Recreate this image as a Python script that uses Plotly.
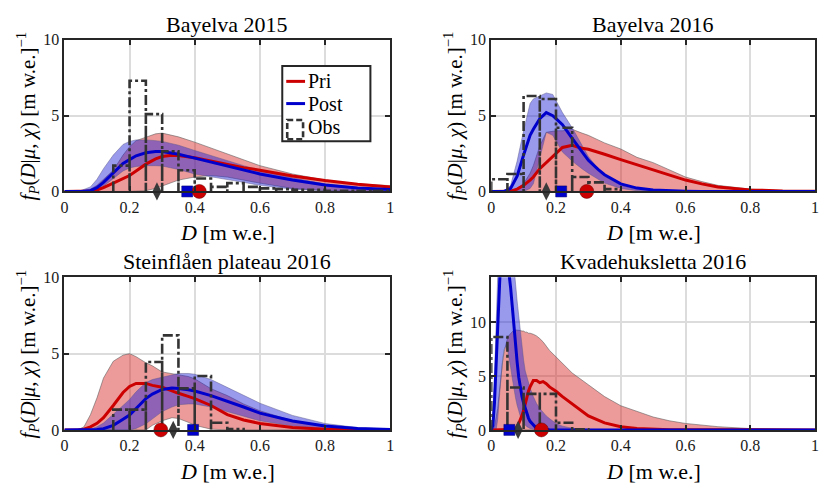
import plotly.graph_objects as go

FONT = "Liberation Serif"

# ---------------- data ----------------
titles = ["Bayelva 2015", "Bayelva 2016", "Steinflåen plateau 2016", "Kvadehuksletta 2016"]
legend_names = ["Pri", "Post", "Obs"]

# Panel 1: Bayelva 2015
p1_D = [0, 0.05, 0.08, 0.1, 0.12, 0.15, 0.18, 0.2, 0.22, 0.25, 0.28, 0.3, 0.33, 0.35,
        0.4, 0.45, 0.5, 0.55, 0.6, 0.7, 0.8, 0.9, 1.0]
p1_pri_lo = [0, 0, 0, 0, 0, 0, 0, 0, 0, 0.05, 0.2, 0.35, 0.6, 0.75,
             0.95, 1.05, 0.95, 0.75, 0.55, 0.2, 0.05, 0, 0]
p1_pri_med = [0, 0, 0.03, 0.1, 0.25, 0.55, 0.85, 1.05, 1.35, 1.8, 2.15, 2.3, 2.38, 2.37,
              2.22, 2.0, 1.78, 1.57, 1.4, 1.02, 0.72, 0.48, 0.3]
p1_pri_hi = [0, 0, 0.15, 0.4, 0.8, 1.4, 2.4, 2.95, 3.35, 3.6, 3.8, 3.85, 3.72, 3.6,
             3.25, 2.85, 2.45, 2.05, 1.7, 1.15, 0.75, 0.5, 0.38]
p1_post_lo = [0, 0, 0, 0.1, 0.35, 0.85, 1.35, 1.55, 1.65, 1.7, 1.7, 1.68, 1.55, 1.45,
              1.15, 0.95, 0.8, 0.6, 0.4, 0.15, 0.05, 0.01, 0]
p1_post_med = [0, 0, 0.05, 0.25, 0.6, 1.25, 1.85, 2.1, 2.35, 2.55, 2.63, 2.63, 2.52, 2.45,
               2.2, 1.95, 1.68, 1.42, 1.15, 0.75, 0.43, 0.22, 0.12]
p1_post_hi = [0, 0.05, 0.3, 0.8, 1.5, 2.4, 3.1, 3.3, 3.4, 3.4, 3.35, 3.3, 3.15, 3.05,
              2.7, 2.35, 2.0, 1.7, 1.4, 0.9, 0.5, 0.25, 0.15]
p1_obs_edges = [0.15, 0.2, 0.25, 0.3, 0.35, 0.4, 0.45, 0.5, 0.55, 0.6, 0.65, 0.7, 0.75,
                0.8, 0.85, 0.9, 0.95, 1.0]
p1_obs = [1.7, 7.3, 5.1, 2.65, 1.4, 0.85, 0.3, 0.55, 0.3, 0.2, 0.15, 0.1, 0.1, 0.05, 0.05, 0.05, 0.05]
p1_means = {"obs": 0.284, "post": 0.377, "pri": 0.414}

# Panel 2: Bayelva 2016
p2_D = [0, 0.04, 0.06, 0.08, 0.1, 0.12, 0.13, 0.15, 0.17, 0.19, 0.2, 0.22, 0.25, 0.28,
        0.3, 0.33, 0.35, 0.4, 0.45, 0.5, 0.55, 0.6, 0.65, 0.7, 0.8, 0.9, 1.0]
p2_pri_lo = [0] * 27
p2_pri_med = [0, 0, 0.02, 0.15, 0.4, 0.75, 0.95, 1.5, 1.9, 2.3, 2.5, 2.9, 3.05, 2.85,
              2.78, 2.6, 2.45, 2.1, 1.75, 1.4, 1.05, 0.75, 0.5, 0.3, 0.1, 0.03, 0.01]
p2_pri_hi = [0, 0, 0.05, 0.2, 0.5, 1.2, 1.7, 3.0, 3.9, 4.0, 4.0, 4.0, 4.1, 3.85,
             3.7, 3.4, 3.2, 2.8, 2.25, 1.9, 1.4, 0.95, 0.65, 0.4, 0.15, 0.05, 0.02]
p2_post_lo = [0, 0, 0, 0, 0, 0.2, 0.5, 2.2, 3.9, 3.7, 3.4, 2.6, 2.0, 1.5,
              1.2, 0.8, 0.55, 0.2, 0.05, 0, 0, 0, 0, 0, 0, 0, 0]
p2_post_med = [0, 0, 0.2, 1.0, 2.4, 3.7, 4.1, 4.8, 5.2, 5.0, 4.8, 4.4, 3.5, 2.6,
               2.05, 1.45, 1.1, 0.5, 0.22, 0.1, 0.05, 0.02, 0, 0, 0, 0, 0]
p2_post_hi = [0, 0, 0.4, 2.0, 4.0, 5.8, 6.1, 6.3, 6.5, 6.4, 6.0, 5.2, 4.2, 3.0,
              2.3, 1.5, 1.0, 0.4, 0.15, 0.05, 0.02, 0, 0, 0, 0, 0, 0]
p2_obs_edges = [0, 0.05, 0.1, 0.15, 0.2, 0.25, 0.3, 0.35, 0.4]
p2_obs = [0.8, 1.15, 6.3, 6.1, 4.2, 0.95, 0.6, 0.15]
p2_means = {"obs": 0.17, "post": 0.216, "pri": 0.295}

# Panel 3: Steinflåen plateau 2016
p3_D = [0, 0.04, 0.06, 0.08, 0.1, 0.12, 0.15, 0.18, 0.2, 0.22, 0.25, 0.27, 0.3, 0.33,
        0.35, 0.38, 0.4, 0.45, 0.5, 0.55, 0.6, 0.7, 0.8, 0.9, 1.0]
p3_pri_lo = [0, 0, 0, 0, 0, 0, 0, 0, 0, 0, 0, 0.3, 0.6, 0.8,
             0.75, 0.5, 0.3, 0.05, 0, 0, 0, 0, 0, 0, 0]
p3_pri_med = [0, 0, 0.05, 0.2, 0.43, 0.8, 1.6, 2.45, 2.85, 3.05, 3.05, 2.92, 2.8, 2.55,
              2.4, 2.2, 2.05, 1.6, 1.0, 0.65, 0.42, 0.15, 0.05, 0.01, 0]
p3_pri_hi = [0, 0, 0.2, 1.0, 2.1, 3.4, 4.5, 4.9, 5.0, 4.8, 4.4, 4.2, 3.8, 3.7,
             3.6, 3.5, 3.35, 2.7, 2.25, 1.7, 1.25, 0.6, 0.25, 0.08, 0.02]
p3_post_lo = [0, 0, 0, 0, 0, 0, 0, 0, 0, 0.1, 0.4, 0.7, 1.2, 1.5,
              1.65, 1.7, 1.7, 1.5, 1.2, 0.9, 0.6, 0.25, 0.08, 0.02, 0]
p3_post_med = [0, 0, 0, 0, 0.02, 0.08, 0.3, 0.7, 0.97, 1.4, 2.05, 2.35, 2.65, 2.74,
               2.72, 2.63, 2.55, 2.25, 1.9, 1.5, 1.1, 0.58, 0.26, 0.1, 0.03]
p3_post_hi = [0, 0, 0, 0.05, 0.2, 0.45, 1.0, 1.6, 2.0, 2.5, 3.1, 3.3, 3.45, 3.6,
              3.7, 3.7, 3.65, 3.3, 2.8, 2.3, 1.75, 0.95, 0.42, 0.15, 0.05]
p3_obs_edges = [0.15, 0.2, 0.25, 0.3, 0.35, 0.4, 0.45, 0.5, 0.55]
p3_obs = [1.33, 1.33, 4.45, 6.2, 2.72, 3.53, 0.47, 0.05]
p3_means = {"pri": 0.296, "obs": 0.334, "post": 0.395}

# Panel 4: Kvadehuksletta 2016
p4_D = [0, 0.005, 0.01, 0.015, 0.02, 0.025, 0.03, 0.035, 0.04, 0.045, 0.05, 0.055, 0.06,
        0.065, 0.07, 0.075, 0.08, 0.085, 0.09, 0.095, 0.1, 0.105, 0.11, 0.115, 0.12,
        0.13, 0.14, 0.15, 0.16, 0.17, 0.18, 0.2, 0.22, 0.25, 0.3, 0.35, 0.4, 0.45,
        0.5, 0.55, 0.6, 0.7, 0.8, 0.9, 1.0]
p4_pri_lo = [0] * 45
p4_pri_med = [0, 0, 0, 0, 0, 0, 0, 0, 0, 0, 0, 0, 0,
              0, 0.05, 0.12, 0.3, 0.6, 0.9, 1.35, 1.8, 2.5, 3.1, 3.6, 4.0,
              4.6, 4.6, 4.4, 4.5, 4.3, 4.0, 3.6, 3.1, 2.4, 1.3, 0.65, 0.3, 0.12,
              0.05, 0.02, 0.01, 0, 0, 0, 0]
p4_pri_hi = [0, 0, 0.3, 1.0, 2.0, 3.5, 5.0, 6.3, 7.3, 8.0, 8.5, 8.8, 9.0,
             9.2, 9.3, 9.3, 9.3, 9.3, 9.25, 9.2, 9.2, 9.1, 9.1, 9.0, 9.0,
             8.9, 8.75, 8.5, 8.2, 7.8, 7.4, 6.8, 6.2, 5.3, 4.2, 3.1, 2.25, 1.7,
             1.2, 0.85, 0.6, 0.3, 0.12, 0.05, 0.02]
p4_post_lo = [0, 0, 0, 0, 1.0, 3.0, 5.0, 6.5, 7.5, 7.8, 7.5, 6.8, 5.8,
              4.8, 3.8, 3.0, 2.3, 1.7, 1.25, 0.9, 0.65, 0.45, 0.3, 0.2, 0.13,
              0.05, 0.02, 0, 0, 0, 0, 0, 0, 0, 0, 0, 0, 0,
              0, 0, 0, 0, 0, 0, 0]
p4_post_med = [0, 0.4, 2.5, 6.0, 10.5, 14.0, 16.5, 17.5, 17.8, 17.2, 16.0, 14.8, 13.2,
               11.5, 9.6, 7.9, 6.3, 4.9, 3.9, 3.1, 2.5, 1.95, 1.5, 1.1, 0.8,
               0.45, 0.15, 0.08, 0.04, 0.02, 0.01, 0, 0, 0, 0, 0, 0, 0,
               0, 0, 0, 0, 0, 0, 0]
p4_post_hi = [0, 1.5, 5.0, 10.0, 15.0, 19.0, 21.0, 22.0, 22.0, 21.5, 21.0, 20.0, 18.5,
              17.0, 15.3, 13.3, 12.0, 10.6, 9.0, 7.6, 6.5, 5.5, 4.9, 4.35, 3.9,
              3.1, 2.45, 2.0, 1.6, 1.3, 1.05, 0.6, 0.35, 0.15, 0.05, 0.02, 0, 0,
              0, 0, 0, 0, 0, 0, 0]
p4_obs_edges = [0, 0.05, 0.1, 0.15, 0.2, 0.25, 0.3]
p4_obs = [8.65, 3.95, 3.35, 3.35, 0.66, 0.05]
p4_means = {"post": 0.056, "obs": 0.083, "pri": 0.155}

y_max = [10, 10, 10, 14.2]
x_ticks = [0, 0.2, 0.4, 0.6, 0.8, 1.0]
x_tick_text = ["0", "0.2", "0.4", "0.6", "0.8", "1"]
y_ticks = [0, 5, 10]
y_tick_text = ["0", "5", "10"]

panels = [
    (p1_D, p1_pri_lo, p1_pri_med, p1_pri_hi, p1_post_lo, p1_post_med, p1_post_hi, p1_obs_edges, p1_obs, p1_means),
    (p2_D, p2_pri_lo, p2_pri_med, p2_pri_hi, p2_post_lo, p2_post_med, p2_post_hi, p2_obs_edges, p2_obs, p2_means),
    (p3_D, p3_pri_lo, p3_pri_med, p3_pri_hi, p3_post_lo, p3_post_med, p3_post_hi, p3_obs_edges, p3_obs, p3_means),
    (p4_D, p4_pri_lo, p4_pri_med, p4_pri_hi, p4_post_lo, p4_post_med, p4_post_hi, p4_obs_edges, p4_obs, p4_means),
]

# ---------------- styling ----------------
W, H = 824, 492
RED = "#cc0000"
BLUE = "#0000cc"
DARK = "#333333"
AX = "#262626"
PINK_FILL = "rgba(215,30,30,0.45)"
BLUE_FILL = "rgba(30,30,215,0.45)"
EDGE = "rgba(90,90,90,0.7)"
HIST_DASH = "10px,3px,3px,3px"

# plot-area boxes in pixels (left, right, top, bottom)
boxes = [(61, 390, 33, 190), (492, 819, 33, 190), (61, 390, 279, 437), (492, 819, 279, 437)]


def hist_path(edges, heights):
    xs, ys = [], []
    for i, h in enumerate(heights):
        x0, x1 = edges[i], edges[i + 1]
        xs += [x0, x0, x1, x1]
        ys += [0, h, h, 0]
    return xs, ys


fig = go.Figure()

for k, (D, prl, prm, prh, pol, pom, poh, oe, ob, means) in enumerate(panels):
    n = k + 1
    xa = "x" if n == 1 else f"x{n}"
    ya = "y" if n == 1 else f"y{n}"
    fig.add_trace(go.Scatter(x=list(D) + list(D)[::-1], y=list(prh) + list(prl)[::-1],
                             fill="toself", fillcolor=PINK_FILL, mode="lines",
                             line=dict(color=EDGE, width=0.8), hoverinfo="skip",
                             showlegend=False, xaxis=xa, yaxis=ya))
    fig.add_trace(go.Scatter(x=list(D) + list(D)[::-1], y=list(poh) + list(pol)[::-1],
                             fill="toself", fillcolor=BLUE_FILL, mode="lines",
                             line=dict(color="rgba(90,90,140,0.6)", width=0.8), hoverinfo="skip",
                             showlegend=False, xaxis=xa, yaxis=ya))
    fig.add_trace(go.Scatter(x=D, y=prm, mode="lines", line=dict(color=RED, width=3),
                             name=legend_names[0], showlegend=False, xaxis=xa, yaxis=ya))
    fig.add_trace(go.Scatter(x=D, y=pom, mode="lines", line=dict(color=BLUE, width=3),
                             name=legend_names[1], showlegend=False, xaxis=xa, yaxis=ya))
    hx, hy = hist_path(oe, ob)
    fig.add_trace(go.Scatter(x=hx, y=hy, mode="lines",
                             line=dict(color=DARK, width=2.6, dash=HIST_DASH),
                             name=legend_names[2], showlegend=False, xaxis=xa, yaxis=ya))
    fig.add_trace(go.Scatter(x=[means["obs"]], y=[0], mode="markers", cliponaxis=False,
                             marker=dict(symbol="diamond-tall", size=13, color="#3a3a3a",
                                         line=dict(width=0)),
                             showlegend=False, xaxis=xa, yaxis=ya))
    fig.add_trace(go.Scatter(x=[means["post"]], y=[0], mode="markers", cliponaxis=False,
                             marker=dict(symbol="square", size=11, color="#0000cc",
                                         line=dict(width=0.5, color="#000066")),
                             showlegend=False, xaxis=xa, yaxis=ya))
    fig.add_trace(go.Scatter(x=[means["pri"]], y=[0], mode="markers", cliponaxis=False,
                             marker=dict(symbol="circle", size=14, color="#cc0000",
                                         line=dict(width=0.5, color="#660000")),
                             showlegend=False, xaxis=xa, yaxis=ya))

layout = dict(width=W, height=H, margin=dict(l=0, r=0, t=0, b=0),
              paper_bgcolor="white", plot_bgcolor="white", showlegend=False,
              font=dict(family=FONT, color="black"),
              annotations=[], shapes=[])

for k, (l, r, t, b) in enumerate(boxes):
    n = k + 1
    xs = "" if n == 1 else str(n)
    common = dict(showline=True, linecolor=AX, linewidth=2, mirror="ticks",
                  ticks="inside", ticklen=5, tickwidth=2, tickcolor=AX,
                  showgrid=True, gridcolor="#dcdcdc", gridwidth=1.5, zeroline=False,
                  tickfont=dict(family=FONT, size=16, color="#1a1a1a"), fixedrange=True)
    layout["xaxis" + xs] = dict(domain=[l / W, r / W], range=[0, 1], anchor="y" + xs,
                                tickvals=x_ticks, ticktext=x_tick_text, **common)
    layout["yaxis" + xs] = dict(domain=[1 - b / H, 1 - t / H], range=[0, y_max[k]],
                                anchor="x" + xs, tickvals=y_ticks, ticktext=y_tick_text,
                                **common)
    cx = (l + r) / 2
    cy = (t + b) / 2
    layout["annotations"] += [
        dict(text=titles[k], x=cx / W, y=1 - (t - 16) / H, xref="paper", yref="paper",
             showarrow=False, xanchor="center", yanchor="middle",
             font=dict(family=FONT, size=22, color="black")),
        dict(text="<i>D</i> [m w.e.]", x=cx / W, y=1 - (b + 43) / H, xref="paper",
             yref="paper", showarrow=False, xanchor="center", yanchor="middle",
             font=dict(family=FONT, size=22, color="black")),
        dict(text="<i>f</i><sub><i>P</i></sub>(<i>D</i>|<i>μ</i>, <i>χ</i>) [m w.e.]<sup>−1</sup>",
             x=(l - 37) / W, y=1 - cy / H, xref="paper", yref="paper", showarrow=False,
             textangle=-90, xanchor="center", yanchor="middle",
             font=dict(family=FONT, size=21, color="black")),
    ]

# ---- legend box inside the first panel (pixel layout converted to paper units) ----
def px(x):
    return x / W


def py(y):
    return 1 - y / H


LX0, LX1, LY0, LY1 = 281, 370, 60, 138
layout["shapes"] += [
    dict(type="rect", xref="paper", yref="paper", x0=px(LX0), x1=px(LX1), y0=py(LY1), y1=py(LY0),
         line=dict(color=AX, width=2), fillcolor="white", layer="above"),
    dict(type="line", xref="paper", yref="paper", x0=px(285), x1=px(304), y0=py(76), y1=py(76),
         line=dict(color=RED, width=3), layer="above"),
    dict(type="line", xref="paper", yref="paper", x0=px(285), x1=px(304), y0=py(99), y1=py(99),
         line=dict(color=BLUE, width=3), layer="above"),
    dict(type="rect", xref="paper", yref="paper", x0=px(286), x1=px(302), y0=py(136), y1=py(116),
         line=dict(color=DARK, width=2.6, dash="6px,3px"), fillcolor="rgba(0,0,0,0)", layer="above"),
]
for name, yy in zip(legend_names, [76, 99, 123]):
    layout["annotations"].append(
        dict(text=name, x=px(305), y=py(yy), xref="paper", yref="paper", showarrow=False,
             xanchor="left", yanchor="middle", font=dict(family=FONT, size=20, color="black")))

fig.update_layout(**layout)
fig.write_html("out.html")
